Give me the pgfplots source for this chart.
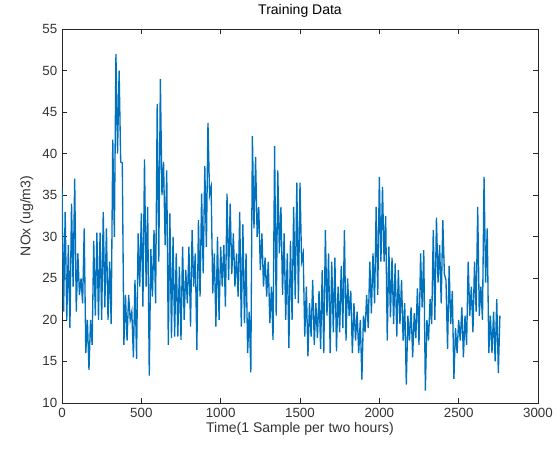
\documentclass[border=0pt]{standalone}
\usepackage{fontspec}
\setmainfont{Liberation Sans}
\usepackage{pgfplots}
\pgfplotsset{compat=1.18}
\usepackage{pgfplotstable}

\definecolor{mlblue}{rgb}{0,0.447,0.741}
\definecolor{mlaxis}{gray}{0.15}

% NOx series (one sample every 10)
\pgfplotstableread{
t y
0 36
10 21
20 33
30 20
40 29
50 19
60 34
70 24
80 37
90 21
100 28
110 23
120 25
130 22
140 31
150 16
160 20
170 14
180 20
190 17
200 29.5
210 20.5
220 30.5
230 20
240 30.5
250 20
260 33
270 21.5
280 31
290 20
300 27
310 19.5
320 41.7
330 30
340 52
350 40
360 50
370 39
380 38.9
390 17
400 23
410 17.5
420 23
430 20
440 21
450 15.5
460 24.8
470 15.3
480 30.4
490 24
500 32.8
510 21.6
520 39.3
530 24
540 33.6
550 13.3
560 28.5
570 22.8
580 30.8
590 22
600 46
610 27
620 49
630 35
640 39
650 29
660 38
670 17
680 32.8
690 17.8
700 30
710 18
720 28
730 18
740 26.4
750 17.6
760 28.8
770 20
780 26
790 22
800 28.8
810 19.2
820 30.8
830 24
840 28
850 16.4
860 32
870 22.8
880 35.2
890 25.6
900 38.5
910 28.8
920 43.7
930 35
940 36
950 23.2
960 28
970 19.2
980 30
990 20
1000 28.8
1010 24
1020 29
1030 21.6
1040 35.2
1050 24.8
1060 34
1070 25.5
1080 30.4
1090 24
1100 28
1110 22.8
1120 33
1130 19.2
1140 31.5
1150 19.6
1160 28
1170 16
1180 21
1190 13.7
1200 42.1
1210 31
1220 39.6
1230 30
1240 33.6
1250 26
1260 30.4
1270 24
1280 27.5
1290 22.8
1300 27
1310 19.6
1320 24
1330 17.6
1340 40.9
1350 20.5
1360 38
1370 28
1380 33.6
1390 23
1400 30.4
1410 20
1420 28
1430 16.6
1440 29.5
1450 20
1460 33.6
1470 22.5
1480 36.5
1490 22
1500 36.5
1510 27
1520 28
1530 18
1540 24
1550 15.6
1560 22
1570 18
1580 24.8
1590 17
1600 22
1610 17.8
1620 23.5
1630 16.5
1640 26
1650 16
1660 30.8
1670 20.5
1680 28
1690 16
1700 27
1710 18.5
1720 27.5
1730 16.2
1740 24
1750 18.5
1760 26.5
1770 19
1780 30.8
1790 17.5
1800 25
1810 20.5
1820 23.5
1830 16
1840 22
1850 17.5
1860 21
1870 16
1880 20
1890 12.8
1900 20.5
1910 18.5
1920 23
1930 19
1940 27
1950 20.8
1960 28
1970 22
1980 33.6
1990 23
2000 37.2
2010 27
2020 36
2030 27
2040 32.5
2050 17.5
2060 28.8
2070 20.3
2080 27.5
2090 19.5
2100 26.8
2110 18
2120 26
2130 19.5
2140 24.8
2150 17.5
2160 22
2170 12.2
2180 20.5
2190 17.5
2200 21.5
2210 15.5
2220 20.8
2230 17.8
2240 23.8
2250 17
2260 28
2270 21.5
2280 28.4
2290 11.5
2300 20
2310 17.5
2320 22.5
2330 19.5
2340 30.8
2350 20
2360 32.3
2370 24.5
2380 29
2390 22
2400 32
2410 25.5
2420 24.8
2430 16.5
2440 26.5
2450 19.5
2460 23.5
2470 12.9
2480 19
2490 16
2500 20
2510 17.5
2520 21.5
2530 15.5
2540 20.5
2550 17
2560 27
2570 20.5
2580 24
2590 18.5
2600 27
2610 21
2620 33.6
2630 20.5
2640 24
2650 20
2660 37.2
2670 24.5
2680 31
2690 16
2700 20.5
2710 16
2720 21
2730 15
2740 22.5
2750 13.6
2760 20.5
}\noxdata

\begin{document}
\begin{tikzpicture}
\begin{axis}[
    scale only axis,
    width=357pt, height=280.5pt,
    xmin=0, xmax=3000,
    ymin=10, ymax=55,
    xtick={0,500,...,3000},
    ytick={10,15,...,55},
    tick align=inside,
    tick pos=both,
    major tick length=3.5pt,
    axis line style={mlaxis, line width=0.5pt},
    every tick/.style={mlaxis, line width=0.5pt},
    tick label style={font=\fontsize{10}{12}\selectfont, text=black!80},
    /pgf/number format/assume math mode=true,
    /pgf/number format/1000 sep={},
    title={Training Data},
    title style={font=\fontsize{10.5}{12}\selectfont, yshift=-1pt},
    xlabel={Time(1 Sample per two hours)},
    ylabel={NOx (ug/m3)},
    label style={font=\fontsize{10.5}{12}\selectfont, text=black!80},
    xlabel style={yshift=3pt},
    ylabel style={yshift=0pt},
]
\addplot[mlblue, line width=1pt, no marks] table[x=t, y=y] {\noxdata};
\end{axis}
\pgfresetboundingbox
\path[use as bounding box] (-46.5pt,-36.75pt) rectangle (373.5pt,302.25pt);
\end{tikzpicture}
\end{document}
